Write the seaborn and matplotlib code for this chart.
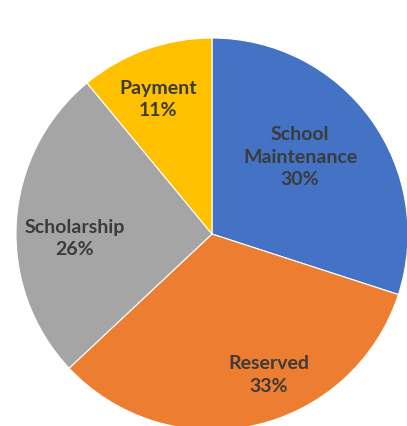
import numpy as np
import seaborn as sns
from matplotlib import pyplot as plt

# data
categories = ["School\nMaintenance", "Reserved", "Scholarship", "Payment"]
shares = [30, 33, 26, 11]
colors = ["#4472C4", "#ED7D31", "#A5A5A5", "#FFC000"]
# label placement: distance from centre and small turn from the wedge middle
label_radius = [0.60, 0.77, 0.70, 0.745]
label_turn = [5.5, 9.5, 5.0, 2.0]

sns.set_theme(style="white")
plt.rcParams['font.family'] = ['Lato', 'DejaVu Sans']

fig = plt.figure(figsize=(4.07, 4.27), dpi=100)
# pie centre at about (212, 235) px, radius about 196 px
r_px = 196
ax = fig.add_axes([(212 - r_px) / 407, (192 - r_px) / 427, 2 * r_px / 407, 2 * r_px / 427])

wedges, _ = ax.pie(shares, colors=colors, startangle=90, counterclock=False,
                   wedgeprops=dict(edgecolor="white", linewidth=0.8))
for w in wedges:
    w.set_clip_on(False)

for w, name, pct, rr, turn in zip(wedges, categories, shares, label_radius, label_turn):
    mid = np.deg2rad((w.theta1 + w.theta2) / 2 + turn)
    ax.text(rr * np.cos(mid), rr * np.sin(mid), f"{name}\n{pct}%",
            ha="center", va="center", fontsize=14, fontweight="bold",
            color="#3b3b3b", linespacing=1.4)

ax.set_xlim(-1, 1)
ax.set_ylim(-1, 1)
ax.set_aspect("equal")
ax.axis("off")

fig.savefig("out.png", dpi=100)
